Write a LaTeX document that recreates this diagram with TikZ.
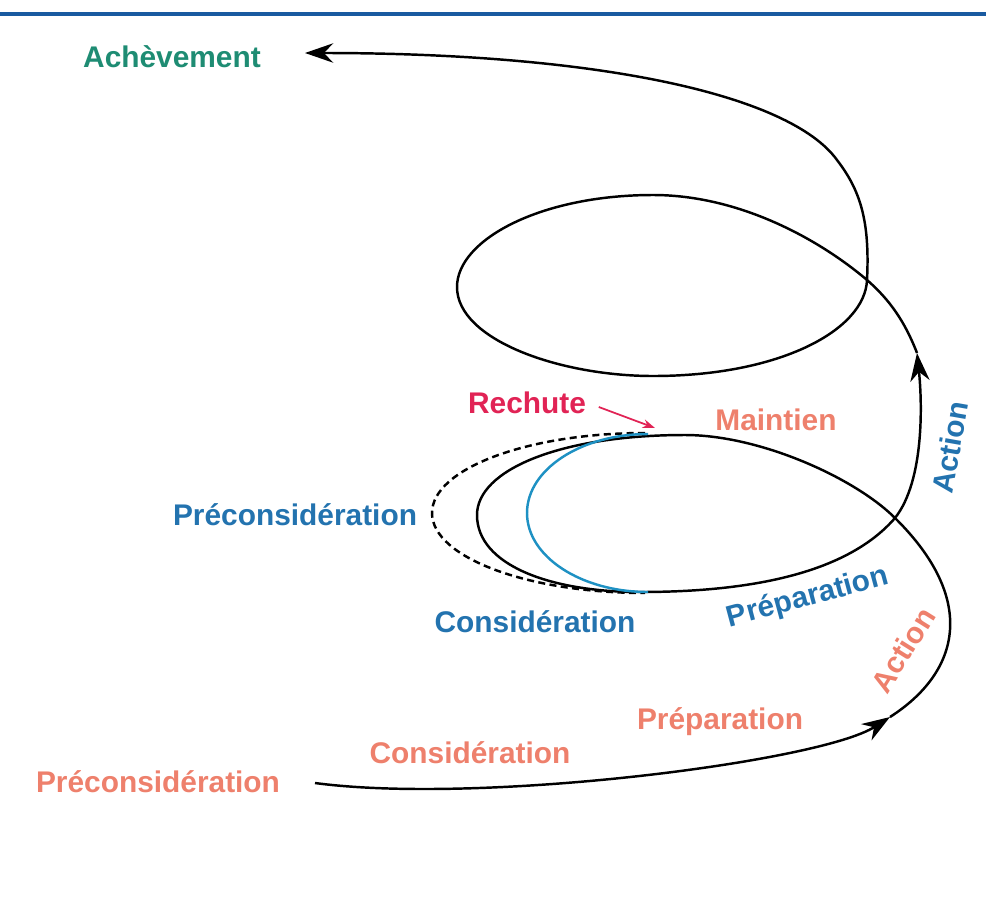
\documentclass[tikz,border=0pt]{standalone}
\usepackage{fontspec}
\setmainfont{Liberation Sans}
\usetikzlibrary{arrows.meta}

\definecolor{salmon}{RGB}{238,128,108}
\definecolor{stageblue}{RGB}{35,115,175}
\definecolor{teal}{RGB}{30,140,115}
\definecolor{crimson}{RGB}{225,35,85}
\definecolor{arcblue}{RGB}{30,145,195}
\definecolor{rule}{RGB}{25,90,160}

\tikzset{
  lbl/.style={font=\fontsize{17}{20}\selectfont\bfseries, inner sep=0pt},
  spiral/.style={line width=1.4pt, -{Stealth[length=16pt,width=11pt]}}
}

\begin{document}
\begin{tikzpicture}[x=0.02cm,y=-0.02cm]
\useasboundingbox (0,0) rectangle (986,896);
\draw[line width=2pt, rule] (0,14) -- (986,14);

% the spiral, cut at its three arrow heads
\draw[spiral] (315,783) .. controls (480,805) and (820,762) .. (890,717);
\draw[spiral] (890,717) .. controls (960,672) and (978,600) .. (895,518)
  .. controls (855,478) and (760,435) .. (685,435)
  .. controls (560,435) and (477,470) .. (477,515)
  .. controls (477,565) and (550,592) .. (640,592)
  .. controls (760,592) and (850,570) .. (895,518)
  .. controls (925,480) and (922,400) .. (917,353);
\draw[spiral] (917,353) .. controls (905,322) and (890,300) .. (867,280)
  .. controls (820,240) and (740,195) .. (653,195)
  .. controls (540,195) and (457,240) .. (457,287)
  .. controls (457,340) and (560,376) .. (653,376)
  .. controls (780,376) and (865,330) .. (867,280)
  .. controls (870,220) and (860,190) .. (837,160)
  .. controls (790,95) and (600,53) .. (305,53);

% the inner turns
\draw[line width=1.4pt, dash pattern=on 4pt off 2.5pt] (645,433) arc[start angle=270, end angle=90, x radius=213, y radius=80];
\draw[line width=1.4pt, arcblue] (648,434) arc[start angle=270, end angle=90, x radius=121, y radius=79];

\node[lbl, teal] (ach) at (172,57) {Achèvement};
\node[lbl, crimson] (rechute) at (527,403) {Rechute};
\coordinate (relapse) at (655,428);
\draw[crimson, line width=1pt, -{Stealth[length=7pt,width=5pt]}] ([xshift=0.25cm,yshift=-0.08cm]rechute.east) -- (relapse);
\node[lbl, salmon] (maint) at (776,420) {Maintien};

\node[lbl, stageblue] (precB) at (295,515) {Préconsidération};
\node[lbl, stageblue] (consB) at (535,622) {Considération};
\node[lbl, stageblue, rotate=15] (prepB) at (808,598) {Préparation};
\node[lbl, stageblue, rotate=80] (actB) at (950,447) {Action};

\node[lbl, salmon, rotate=58] (actS) at (903,650) {Action};
\node[lbl, salmon] (prepS) at (720,722) {Préparation};
\node[lbl, salmon] (consS) at (470,753) {Considération};
\node[lbl, salmon] (precS) at (158,782) {Préconsidération};
\end{tikzpicture}
\end{document}
